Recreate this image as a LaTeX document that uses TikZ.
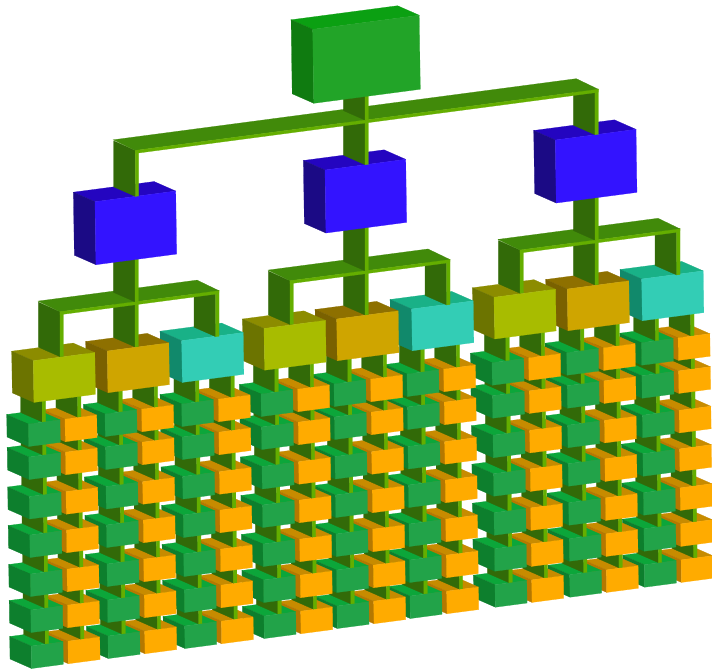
\documentclass[tikz,border=0pt]{standalone}

\definecolor{rootF}{HTML}{22A428}
\definecolor{rootT}{HTML}{0BA012}
\definecolor{rootL}{HTML}{0F7B10}
\definecolor{blueF}{HTML}{3313FF}
\definecolor{blueT}{HTML}{2405C0}
\definecolor{blueL}{HTML}{1B0A85}
\definecolor{oliveF}{HTML}{A8BC00}
\definecolor{oliveT}{HTML}{8C8C00}
\definecolor{oliveL}{HTML}{6C7400}
\definecolor{goldF}{HTML}{CFA500}
\definecolor{goldT}{HTML}{8E7000}
\definecolor{goldL}{HTML}{7A6100}
\definecolor{tealF}{HTML}{33CDB5}
\definecolor{tealT}{HTML}{19B187}
\definecolor{tealL}{HTML}{11896B}
\definecolor{greenF}{HTML}{22A349}
\definecolor{greenT}{HTML}{0CA63A}
\definecolor{greenL}{HTML}{0D7F2D}
\definecolor{amberF}{HTML}{FFAB00}
\definecolor{amberT}{HTML}{C78B00}
\definecolor{amberL}{HTML}{B57800}
\definecolor{stemL}{HTML}{326A08}
\definecolor{stemF}{HTML}{64AE00}
\definecolor{stemT}{HTML}{418A0A}

\tikzset{
    face/.style={fill=#1, draw=#1, line width=.25pt}
}

% name, x, y, width, height, colour
\newcommand{\cuboid}[6]{%
    \path[face=#6T] (#2,#3) -- ++(-21.6,-9.5) -- ++(#4,-.132*#4) -- ++(21.6,9.5) -- cycle;
    \path[face=#6L] (#2,#3) -- ++(-21.6,-9.5) -- ++(.015*#5,#5) -- ++(21.6,9.5) -- cycle;
    \path[face=#6F] (#2,#3) -- ++(#4,-.132*#4) -- ++(.015*#5,#5) -- ++(-#4,.132*#4) -- cycle;
    \coordinate (#1) at (#2+.5*#4-2,#3-.066*#4);
}

% foot, head
\newcommand{\plate}[2]{%
    \path[face=stemL] (#1) -- (#1 |- #2) -- ++(-21.6,-9.5) -- ([shift={(-21.6,-9.5)}]#1) -- cycle;
    \path[face=stemF] (#1) -- (#1 |- #2) -- ++(3.4,-.4) -- ([shift={(3.4,-.4)}]#1) -- cycle;
}

% name, foot shift, length
\newcommand{\stem}[3]{%
    \coordinate (#1f) at ([xshift=#2pt]#1);
    \coordinate (#1u) at ([yshift=#3pt]#1f);
    \plate{#1f}{#1u}
}

% name, x, y, width, mid
\newcommand{\busat}[5]{%
    \coordinate (#1l) at (#2,#3);
    \coordinate (#1m) at (#2+#5,#3-.132*#5);
    \coordinate (#1r) at (#2+#4-3.4,#3-.132*#4);
}
% x, y, width
\newcommand{\bus}[3]{%
    \path[face=stemT] (#1,#2) -- ++(-22,-10.6) -- ++(#3,-.132*#3) -- ++(22,10.6) -- cycle;
    \path[face=stemF] (#1,#2) -- ++(#3,-.132*#3) -- ++(-.2,3) -- ++(-#3+.2,.132*#3) -- cycle;
}

\begin{document}
\begin{tikzpicture}[x=1pt, y=-1pt]
    \useasboundingbox (0,0) rectangle (712,670);

    \foreach \n/\ox/\oy/\gx/\gy/\cx/\cy/\bx/\by/\bw/\ux/\uy/\lx/\ly/\ld in {%
        C/494/297.3/567.3/289/641.7/279/520/250/160/555.3/140/492/362.7/74.7,%
        B/264/328.5/336.7/319/411.7/309/290/280.7/160/325/170/261/394/73,%
        A/33.3/360.7/107.3/351/181.7/340.7/60/311.7/159/95/201.7/28.3/424/76.7%
    }{
        % bottom layer, right column first
        \foreach \c in {2,1,0}{
            \foreach \r/\ry in {6/222,5/186,4/150,3/111,2/72.5,1/33,0/0}{
                \pgfmathsetmacro{\px}{\lx+\c*\ld+\r*.5}
                \pgfmathsetmacro{\py}{\ly-\c*10+\ry}
                \cuboid{amber\n\c\r}{\px+36.7}{\py-4.8}{31.7}{22.5}{amber}
                \stem{amber\n\c\r}{-1.3}{28}
                \cuboid{green\n\c\r}{\px}{\py}{31.7}{22.5}{green}
                \stem{green\n\c\r}{0}{28}
            }
        }

        \cuboid{teal\n}{\cx}{\cy}{61.5}{41.7}{teal}
        \cuboid{gold\n}{\gx}{\gy}{61.5}{41.7}{gold}
        \cuboid{olive\n}{\ox}{\oy}{61.5}{41.7}{olive}

        \busat{bus\n}{\bx}{\by}{\bw}{75}
        \coordinate (legl\n) at (bus\n l |- olive\n);
        \coordinate (legm\n) at (bus\n m |- gold\n);
        \coordinate (legr\n) at (bus\n r |- teal\n);
        \plate{legl\n}{bus\n l}
        \plate{legm\n}{bus\n m}
        \plate{legr\n}{bus\n r}
        \bus{\bx}{\by}{\bw}
        \stem{bus\n m}{0}{48}

        \cuboid{blue\n}{\ux}{\uy}{80.7}{63}{blue}
    }

    % top layer
    \busat{top}{135.3}{150.4}{463}{229.7}
    \coordinate (legA) at (topl |- blueA);
    \coordinate (legB) at (topm |- blueB);
    \coordinate (legC) at (topr |- blueC);
    \plate{legA}{topl}
    \plate{legB}{topm}
    \plate{legC}{topr}
    \bus{135.3}{150.4}{463}
    \stem{topm}{0}{35}

    \cuboid{root}{312.7}{29.3}{106.5}{74}{root}
\end{tikzpicture}
\end{document}
